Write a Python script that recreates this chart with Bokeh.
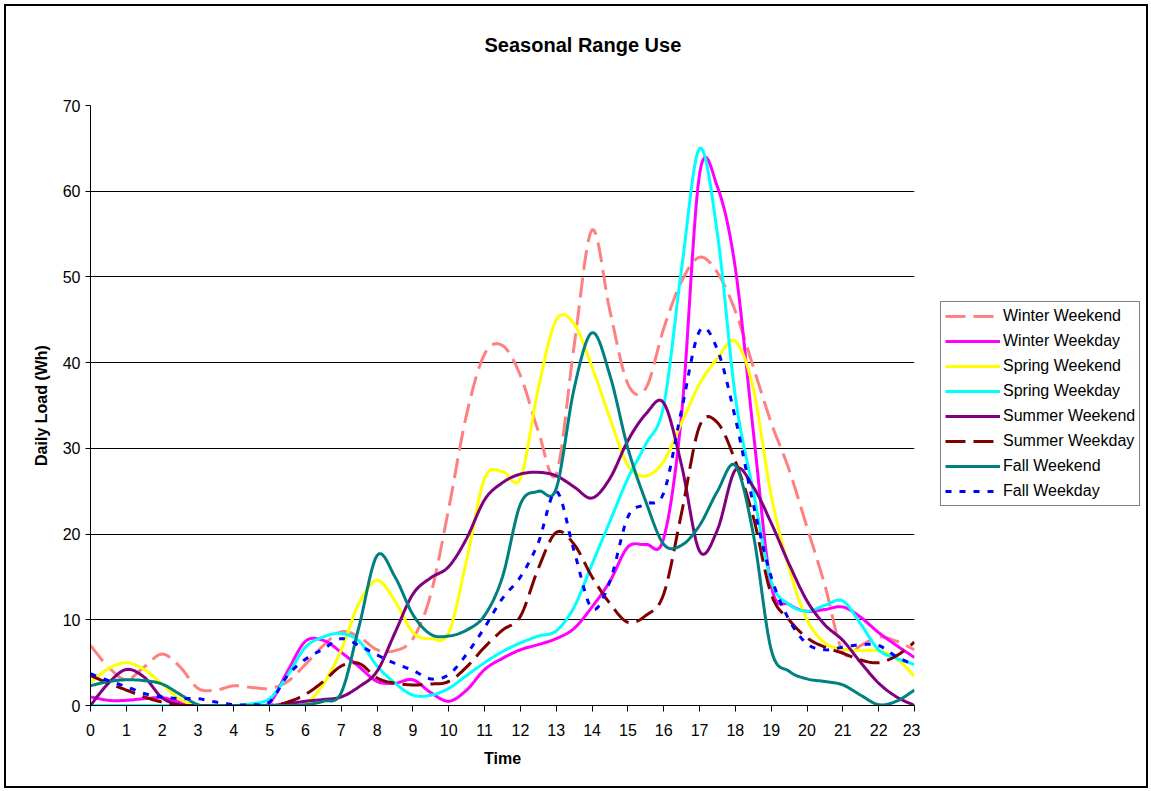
import math
from bokeh.plotting import figure
from bokeh.layouts import row
from bokeh.models import Legend, LegendItem, Title, FixedTicker, Range1d, LinearAxis
from bokeh.embed import file_html
from bokeh.resources import INLINE

# half-hour grid (hours)
time = [0, 0.5, 1, 1.5, 2, 2.5, 3, 3.5, 4, 4.5, 5, 5.5, 6, 6.5, 7, 7.5, 8, 8.5,
        9, 9.5, 10, 10.5, 11, 11.5, 12, 12.5, 13, 13.5, 14, 14.5, 15, 15.5, 16,
        16.5, 17, 17.5, 18, 18.5, 19, 19.5, 20, 20.5, 21, 21.5, 22, 22.5, 23]

hour_labels = [str(h) for h in range(24)]
load_ticks = [0, 10, 20, 30, 40, 50, 60, 70]

winter_weekend = [7.0, 4.5, 3.0, 4.5, 6.0, 4.5, 2.0, 1.8, 2.3, 2.1, 2.0, 2.8, 4.8, 7.0,
                  8.6, 8.0, 6.5, 6.4, 7.8, 13.0, 23.0, 34.0, 41.0, 42.0, 38.5, 32.0,
                  27.0, 42.0, 55.5, 46.0, 37.5, 37.0, 44.0, 49.5, 52.3, 50.5, 46.0,
                  39.5, 33.0, 27.5, 20.8, 14.0, 6.2, 7.0, 8.0, 7.5, 6.5]
winter_weekday = [1.0, 0.6, 0.6, 0.8, 0.9, 0.4, 0.0, 0.0, 0.0, 0.0, 0.3, 4.0, 7.5, 7.6,
                  6.2, 4.5, 2.8, 2.6, 3.0, 1.5, 0.5, 1.8, 4.2, 5.5, 6.5, 7.1, 7.8, 9.0,
                  11.5, 14.5, 18.5, 18.8, 19.5, 34.0, 62.0, 60.5, 51.0, 32.0, 14.0,
                  11.8, 11.0, 11.2, 11.5, 10.3, 8.5, 7.0, 5.6]
spring_weekend = [2.7, 4.3, 5.0, 4.2, 2.5, 0.7, 0.0, 0.0, 0.0, 0.0, 0.0, 0.0, 0.2, 2.5,
                  6.5, 12.0, 14.6, 12.2, 8.5, 7.8, 8.5, 17.0, 26.5, 27.3, 26.5, 37.0,
                  45.0, 44.5, 39.5, 33.5, 28.0, 26.8, 28.5, 33.0, 37.5, 40.5, 42.5,
                  37.0, 24.5, 16.0, 10.0, 7.3, 6.6, 6.4, 6.4, 5.5, 3.4]
spring_weekday = [0.0, 0.0, 0.0, 0.0, 0.0, 0.0, 0.0, 0.0, 0.0, 0.2, 0.8, 3.5, 6.8, 8.0,
                  8.4, 7.5, 4.6, 2.6, 1.2, 1.2, 2.0, 3.5, 5.0, 6.3, 7.3, 8.1, 8.7, 11.5,
                  16.5, 21.5, 26.5, 30.5, 35.0, 51.0, 65.0, 55.0, 36.0, 25.0, 14.5,
                  11.8, 11.0, 11.7, 12.2, 9.5, 6.5, 5.5, 4.8]
summer_weekend = [0.0, 2.6, 4.2, 3.3, 0.9, 0.1, 0.0, 0.0, 0.0, 0.0, 0.0, 0.2, 0.5, 0.7,
                  1.0, 2.2, 4.0, 8.5, 13.0, 14.9, 16.2, 19.5, 24.0, 26.0, 27.0, 27.2,
                  26.8, 25.5, 24.2, 26.5, 30.9, 34.0, 35.3, 28.0, 18.0, 20.5, 27.5,
                  25.5, 21.3, 16.5, 12.2, 9.4, 7.6, 5.0, 2.6, 1.0, 0.0]
summer_weekday = [3.5, 2.6, 1.8, 1.0, 0.4, 0.0, 0.0, 0.0, 0.0, 0.0, 0.0, 0.4, 1.3, 2.8,
                  4.6, 4.9, 3.2, 2.6, 2.4, 2.5, 2.8, 4.5, 6.8, 8.8, 10.4, 16.0, 20.2,
                  18.8, 15.0, 11.9, 9.7, 10.5, 13.0, 22.5, 32.6, 33.0, 28.5, 22.0,
                  13.0, 10.0, 7.9, 6.8, 6.1, 5.3, 5.0, 5.8, 7.4]
fall_weekend = [2.3, 2.8, 3.0, 2.9, 2.5, 1.3, 0.1, 0.0, 0.0, 0.0, 0.0, 0.0, 0.1, 0.5,
                1.5, 9.3, 17.5, 15.0, 10.6, 8.3, 8.1, 8.8, 10.5, 15.0, 23.5, 25.0,
                25.3, 37.0, 43.5, 38.5, 30.0, 23.8, 18.8, 18.7, 21.0, 25.0, 28.0,
                20.0, 6.5, 4.0, 3.1, 2.8, 2.4, 1.2, 0.1, 0.5, 1.8]
fall_weekday = [3.7, 2.9, 2.2, 1.4, 1.0, 0.8, 0.8, 0.4, 0.1, 0.1, 0.4, 3.5, 5.4, 6.6,
                7.8, 7.0, 5.9, 4.9, 4.1, 3.1, 3.6, 6.0, 9.1, 12.5, 15.0, 19.0, 25.0,
                18.0, 11.3, 14.5, 22.0, 23.5, 24.8, 34.5, 43.7, 41.5, 33.5, 23.5,
                15.0, 10.0, 7.2, 6.5, 6.8, 7.1, 7.0, 5.7, 4.7]

series_names = ["Winter Weekend", "Winter Weekday", "Spring Weekend", "Spring Weekday",
                "Summer Weekend", "Summer Weekday", "Fall Weekend", "Fall Weekday"]
series_values = [winter_weekend, winter_weekday, spring_weekend, spring_weekday,
                 summer_weekend, summer_weekday, fall_weekend, fall_weekday]
colors = ["#FF8080", "#FF00FF", "#FFFF00", "#00FFFF", "#800080", "#800000", "#008080", "#0000FF"]
dashes = ["20 8", "solid", "solid", "solid", "solid", "20 8", "solid", "6 8"]


def smooth(xs, ys, n=10):
    """Excel-style smoothed line (Catmull-Rom / Bezier) through the data points."""
    ox, oy = [], []
    m = len(xs)
    for i in range(m - 1):
        x0, y0 = (xs[i - 1], ys[i - 1]) if i > 0 else (xs[i], ys[i])
        x1, y1 = xs[i], ys[i]
        x2, y2 = xs[i + 1], ys[i + 1]
        x3, y3 = (xs[i + 2], ys[i + 2]) if i + 2 < m else (xs[i + 1], ys[i + 1])
        c1x, c1y = x1 + (x2 - x0) / 6.0, y1 + (y2 - y0) / 6.0
        c2x, c2y = x2 - (x3 - x1) / 6.0, y2 - (y3 - y1) / 6.0
        for k in range(n):
            t = k / n
            a, b, c, d = (1 - t) ** 3, 3 * (1 - t) ** 2 * t, 3 * (1 - t) * t ** 2, t ** 3
            ox.append(a * x1 + b * c1x + c * c2x + d * x2)
            oy.append(a * y1 + b * c1y + c * c2y + d * y2)
    ox.append(xs[-1])
    oy.append(ys[-1])
    return ox, oy


FONT = "Liberation Sans"

p = figure(width=914, height=780, output_backend="svg", toolbar_location=None,
           x_range=Range1d(0, 23), y_range=Range1d(0, 70),
           min_border_left=84, min_border_right=6, min_border_top=99, min_border_bottom=81)
p.background_fill_color = "white"
p.border_fill_color = "white"
p.outline_line_color = None

xax = p.below[0]
yax = p.left[0]

# main title (outermost in the top panel)
p.title = Title(text="Seasonal Range Use", align="left", offset=394, standoff=0,
                text_font=FONT, text_font_size="20px", text_font_style="bold",
                text_color="black")
# invisible spacer axis between the frame and the title (one undrawn, empty tick)
spacer = LinearAxis(ticker=FixedTicker(ticks=[0]), major_label_overrides={0: ""},
                    major_tick_out=50, major_tick_in=0, major_label_standoff=0,
                    axis_line_color=None, major_tick_line_color=None,
                    minor_tick_line_color=None, major_label_text_font_size="1px",
                    major_label_text_color=None)
p.add_layout(spacer, "above")

p.xgrid.grid_line_color = None
p.ygrid.grid_line_color = "black"
p.ygrid.grid_line_width = 1
p.ygrid.ticker = FixedTicker(ticks=load_ticks)

xax.ticker = FixedTicker(ticks=list(range(24)))
xax.major_label_overrides = {i: hour_labels[i] for i in range(24)}
yax.ticker = FixedTicker(ticks=load_ticks)
for ax in (xax, yax):
    ax.axis_line_color = "black"
    ax.axis_line_width = 1
    ax.major_tick_line_color = "black"
    ax.major_tick_in = 0
    ax.minor_tick_line_color = None
    ax.major_label_text_font = FONT
    ax.major_label_text_font_size = "16px"
    ax.major_label_text_color = "black"
xax.major_tick_out = 6
yax.major_tick_out = 5
xax.major_label_standoff = 12
yax.major_label_standoff = 5
xax.axis_label = "Time"
xax.axis_label_text_font = FONT
xax.axis_label_text_font_size = "16px"
xax.axis_label_text_font_style = "bold"
xax.axis_label_text_color = "black"
xax.axis_label_standoff = 11

ytitle = Title(text="Daily Load (Wh)", align="center", offset=-63, standoff=20,
               text_font=FONT, text_font_size="16px", text_font_style="bold",
               text_color="black")
p.add_layout(ytitle, "left")

curves = []
for name, vals, col, dash in zip(series_names, series_values, colors, dashes):
    sx, sy = smooth(time, vals)
    curves.append((sx, sy))
    p.line(sx, sy, line_color=col, line_width=3, line_dash=dash, line_join="round")

# legend panel to the right of the plot area (its ranges keep the proxy lines out of view)
pl = figure(width=226, height=780, output_backend="svg", toolbar_location=None,
            x_axis_type=None, y_axis_type=None, x_range=Range1d(-2, -1), y_range=Range1d(-2, -1),
            min_border_left=0, min_border_right=0, min_border_top=0, min_border_bottom=0)
pl.outline_line_color = None
pl.background_fill_color = "white"
pl.border_fill_color = "white"
keys = []
for (sx, sy), col, dash in zip(curves, colors, dashes):
    keys.append(pl.line(sx, sy, line_color=col, line_width=3, line_dash=dash))

legend = Legend(items=[LegendItem(label=n, renderers=[r]) for n, r in zip(series_names, keys)],
                location=(20, 199))
legend.label_text_font = FONT
legend.label_text_font_size = "16px"
legend.label_text_color = "black"
legend.glyph_width = 55
legend.glyph_height = 20
legend.label_height = 20
legend.label_standoff = 3
legend.spacing = 5
legend.padding = 4
legend.margin = 0
legend.border_line_color = "black"
legend.border_line_width = 1
legend.background_fill_color = "white"
legend.background_fill_alpha = 1
pl.add_layout(legend, "center")

layout = row(p, pl, spacing=0)
layout.styles = {"border": "2px solid black", "margin": "4px 0 0 4px", "box-sizing": "content-box"}

open("out.html", "w").write(file_html(layout, INLINE))
